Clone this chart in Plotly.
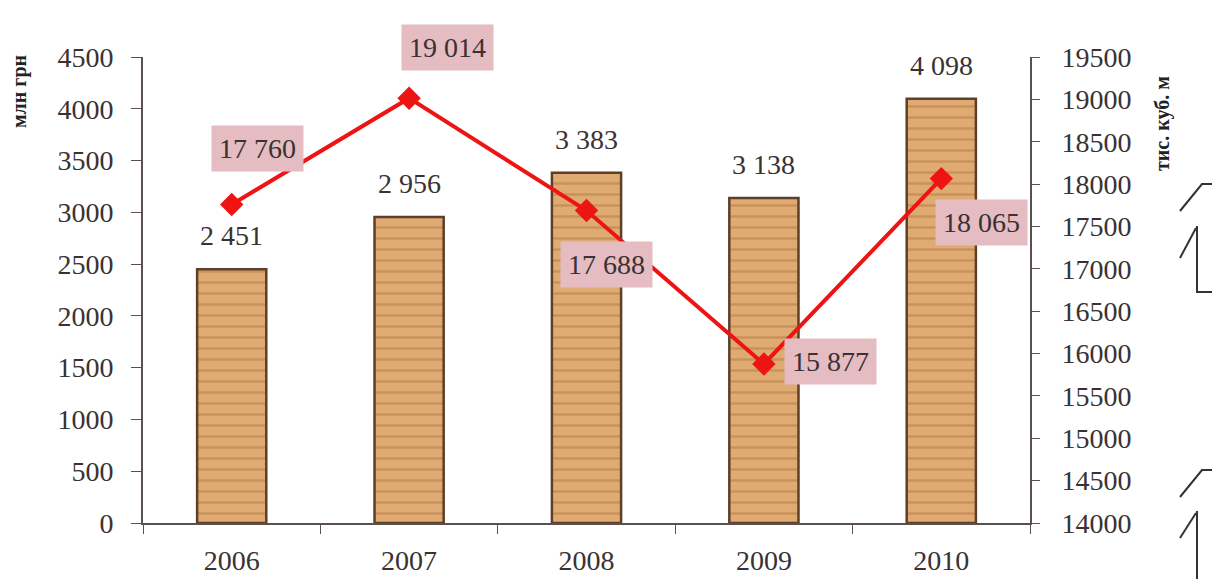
import plotly.graph_objects as go

years = ["2006", "2007", "2008", "2009", "2010"]
money = [2451, 2956, 3383, 3138, 4098]          # млн грн (bars)
volume = [17760, 19014, 17688, 15877, 18065]    # тис. куб. м (line)
left_ticks = list(range(0, 4501, 500))
right_ticks = list(range(14000, 19501, 500))

# label offsets (pixels) for line labels
lbl_off = [(26, -56), (38, -51), (20, 54), (67, -2), (40, 44)]

def fmt(v):
    return f"{v:,}".replace(",", " ")

FONT = "Liberation Serif, Times New Roman, serif"
TXT = "#3a3232"
AX = "#5a5050"

OFF = 8  # default page body margin
W, H = 1220 - OFF, 579 - OFF
L, T = 143 - OFF, 57 - OFF
PW, PH = 887, 466
R, B = W - L - PW, H - T - PH

fig = go.Figure()

fig.add_trace(go.Bar(
    x=years, y=money, width=0.39,
    marker=dict(
        color="#dba46c",
        line=dict(color="#5e3f27", width=2.5),
        pattern=dict(shape="-", fgcolor="#a8693a", bgcolor="#dfab72",
                     size=11, solidity=0.22, fgopacity=0.4),
    ),
    hoverinfo="skip", showlegend=False,
))

fig.add_trace(go.Scatter(
    x=years, y=volume, yaxis="y2", mode="lines+markers",
    line=dict(color="#ee1414", width=4),
    marker=dict(symbol="diamond", size=18, color="#ee1414"),
    showlegend=False,
))

anns = []
for i, v in enumerate(money):
    anns.append(dict(x=i, y=v, xref="x", yref="y", text=fmt(v), showarrow=False,
                     yanchor="bottom", yshift=16,
                     font=dict(family=FONT, size=28, color=TXT)))
for i, (v, (ax, ay)) in enumerate(zip(volume, lbl_off)):
    anns.append(dict(x=i, y=v, xref="x", yref="y2", text=fmt(v), showarrow=True,
                     arrowcolor="rgba(0,0,0,0)", arrowwidth=0.1, ax=ax, ay=ay,
                     bgcolor="#e4bcc1", borderpad=7,
                     font=dict(family=FONT, size=28, color=TXT)))

def px(xp, yp):
    # page pixel -> paper coordinates
    return (xp - OFF - L) / PW, (OFF + T + PH - yp) / PH

# axis titles
tx, ty = px(20, 92)
anns.append(dict(x=tx, y=ty, xref="paper", yref="paper", text="<b>млн грн</b>",
                 textangle=-90, showarrow=False, xanchor="center", yanchor="middle",
                 font=dict(family=FONT, size=20, color="#222")))
tx, ty = px(1162, 124)
anns.append(dict(x=tx, y=ty, xref="paper", yref="paper", text="<b>тис. куб. м</b>",
                 textangle=-90, showarrow=False, xanchor="center", yanchor="middle",
                 font=dict(family=FONT, size=20, color="#222")))

# decorative bracket fragments at the right edge of the scan
shapes = []
def seg(pts):
    p = [px(a, b) for a, b in pts]
    path = "M " + " L ".join(f"{a},{b}" for a, b in p)
    shapes.append(dict(type="path", xref="paper", yref="paper", path=path,
                       line=dict(color="#333", width=2)))
seg([(1180, 211), (1202, 184), (1222, 184)])
seg([(1180, 258), (1196, 228)])
seg([(1197, 226), (1197, 292), (1222, 292)])
seg([(1180, 497), (1202, 470), (1222, 470)])
seg([(1180, 538), (1196, 513)])
seg([(1197, 511), (1197, 585)])

fig.update_layout(
    width=W, height=H,
    margin=dict(l=L, r=R, t=T, b=B, autoexpand=False),
    paper_bgcolor="white", plot_bgcolor="white",
    font=dict(family=FONT, size=28, color=TXT),
    annotations=anns, shapes=shapes,
    xaxis=dict(
        type="category", range=[-0.5, len(years) - 0.5], autorange=False,
        automargin=False,
        showgrid=False, showline=True, linecolor=AX, linewidth=2,
        ticks="outside", tickson="boundaries", ticklen=9, tickcolor=AX,
        ticklabelstandoff=11, tickangle=0,
        tickfont=dict(family=FONT, size=28, color=TXT),
        zeroline=False,
    ),
    yaxis=dict(
        range=[0, 4500], autorange=False, tickvals=left_ticks, tickformat="d",
        automargin=False,
        showgrid=False, zeroline=False,
        showline=True, linecolor=AX, linewidth=2, ticks="outside", ticklen=10,
        tickcolor=AX, ticklabelstandoff=12,
        tickfont=dict(family=FONT, size=28, color=TXT),
    ),
    yaxis2=dict(
        range=[14000, 19500], autorange=False, tickvals=right_ticks, tickformat="d",
        automargin=False,
        overlaying="y", side="right",
        showgrid=False, zeroline=False, showline=True, linecolor=AX, linewidth=2,
        ticks="outside", ticklen=8, tickcolor=AX, ticklabelstandoff=16,
        tickfont=dict(family=FONT, size=28, color=TXT),
    ),
)

fig.write_html("out.html")
